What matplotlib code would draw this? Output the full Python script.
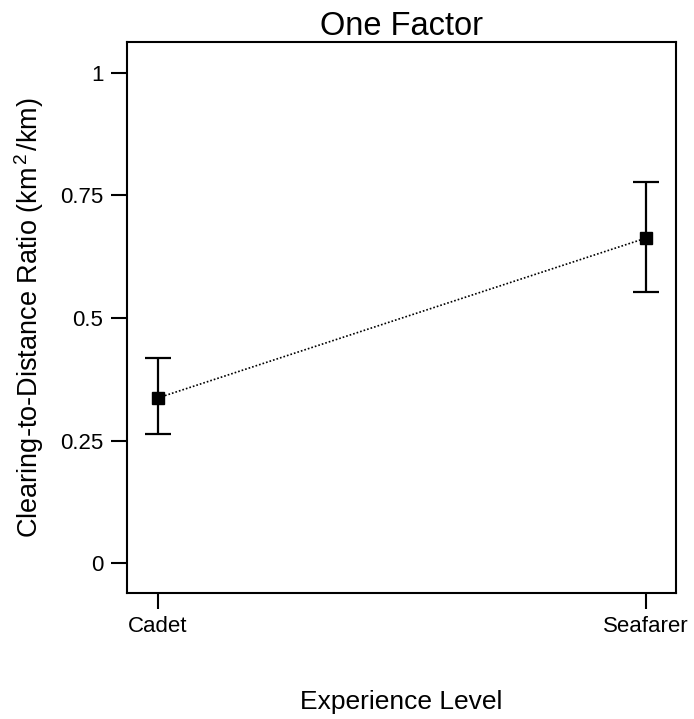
import matplotlib
matplotlib.use("Agg")
import matplotlib.pyplot as plt

categories = ["Cadet", "Seafarer"]
means = [0.337, 0.663]
lower = [0.263, 0.553]
upper = [0.418, 0.778]
yticks = [0, 0.25, 0.5, 0.75, 1]
ytick_labels = ["0", "0.25", "0.5", "0.75", "1"]

plt.rcParams['font.family'] = ['Liberation Sans', 'DejaVu Sans']
plt.rcParams['mathtext.fontset'] = 'custom'
plt.rcParams['mathtext.rm'] = 'Liberation Sans'
plt.rcParams['mathtext.it'] = 'Liberation Sans'
plt.rcParams['mathtext.default'] = 'regular'

fig = plt.figure(figsize=(6.94, 7.19), dpi=100)
ax = fig.add_axes([127/694, 1 - 593/719, 549/694, 551/719])

x = list(range(1, len(categories) + 1))
yerr = [[m - l for m, l in zip(means, lower)], [u - m for m, u in zip(means, upper)]]

ax.plot(x, means, linestyle=(0, (1, 1.2)), color='black', lw=1.2, zorder=2)
ax.errorbar(x, means, yerr=yerr, fmt='none', ecolor='black', elinewidth=1.6,
            capsize=9.4, capthick=1.6, zorder=3)
ax.plot(x, means, 's', color='black', markersize=8.6, zorder=4)

ax.set_xlim(0.9365, 2.0615)
ax.set_ylim(-0.061, 1.063)
ax.set_xticks(x)
ax.set_xticklabels(categories)
ax.set_yticks(yticks)
ax.set_yticklabels(ytick_labels)

for s in ax.spines.values():
    s.set_linewidth(1.5)
ax.tick_params(axis='both', direction='out', length=11.5, width=1.5,
               labelsize=16, colors='black')
ax.tick_params(axis='y', pad=5.5)
ax.tick_params(axis='x', pad=5)

ax.set_title("One Factor", fontsize=23.5, pad=4)
ax.set_xlabel("Experience Level", fontsize=19, labelpad=38)
ax.set_ylabel(r"Clearing-to-Distance Ratio (km$^{\,2\,}$/km)", fontsize=19.5, labelpad=10)

fig.savefig("out.png", dpi=100)
